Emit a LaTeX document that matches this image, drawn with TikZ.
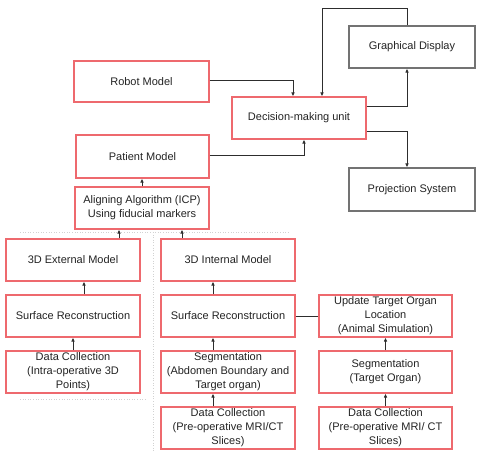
\documentclass[tikz,border=0pt]{standalone}
\usepackage{fontspec}
\setmainfont{Liberation Sans}
\usetikzlibrary{calc,arrows.meta}
\definecolor{boxred}{RGB}{238,105,110}
\definecolor{boxgray}{RGB}{115,115,115}
\definecolor{linec}{RGB}{45,45,45}
\definecolor{txt}{RGB}{35,35,35}
\tikzset{
  rbox/.style={draw=boxred, line width=1.2pt, align=center, inner sep=1pt,
    font=\fontsize{11}{14}\selectfont, text=txt},
  gbox/.style={rbox, draw=boxgray},
  arr/.style={draw=linec, line width=0.75pt, -{Latex[length=4pt,width=3.6pt]}},
  ln/.style={draw=linec, line width=0.75pt},
  faint/.style={draw=gray!35, dotted, line width=0.6pt}
}
\newcommand{\bx}[6]{\node[#1, minimum width=#4pt, minimum height=#5pt] (#2) at #3 {#6};}
\begin{document}
\begin{tikzpicture}[x=1pt,y=-1pt]
\useasboundingbox (0,0) rectangle (477,456);
% faint group outlines
\draw[faint] (20,232) -- (290,232);
\draw[faint] (153,232) -- (153,452);
\draw[faint] (20,399) -- (145,399);
% boxes
\bx{gbox}{gd}{(412,47)}{126}{42}{Graphical Display}
\bx{rbox}{rm}{(141.5,81.5)}{135}{41}{Robot Model}
\bx{rbox}{dm}{(299,118)}{134}{42}{Decision-making unit}
\bx{rbox}{pm}{(142.5,156.5)}{133}{43}{Patient Model}
\bx{gbox}{ps}{(412,189.5)}{126}{43}{Projection System}
\bx{rbox}{al}{(142,208)}{134}{42}{Aligning Algorithm (ICP)\\Using fiducial markers}
\bx{rbox}{ext}{(73,260)}{134}{42}{3D External Model}
\bx{rbox}{int}{(228,260)}{134}{42}{3D Internal Model}
\bx{rbox}{srL}{(73,316)}{134}{42}{Surface Reconstruction}
\bx{rbox}{srM}{(228,316)}{134}{42}{Surface Reconstruction}
\bx{rbox}{up}{(385.5,316)}{133}{42}{Update Target Organ\\Location\\(Animal Simulation)}
\bx{rbox}{dcL}{(73,372)}{134}{42}{Data Collection\\(Intra-operative 3D\\Points)}
\bx{rbox}{segM}{(228,372)}{134}{42}{Segmentation\\(Abdomen Boundary and\\Target organ)}
\bx{rbox}{segR}{(385.5,372)}{133}{42}{Segmentation\\(Target Organ)}
\bx{rbox}{dcM}{(228,428)}{134}{42}{Data Collection\\(Pre-operative MRI/CT\\Slices)}
\bx{rbox}{dcR}{(385.5,428)}{133}{42}{Data Collection\\(Pre-operative MRI/ CT\\Slices)}
% connectors
\draw[arr] ($(rm.east)+(0,-1.5)$) -| ($(dm.north)+(-6,0)$);
\draw[arr] ($(pm.east)+(0,-1.5)$) -| ($(dm.south)+(5,0)$);
\draw[arr] ($(gd.north)+(-5,0)$) -- ++(0,-17) -| ($(dm.north)+(23,0)$);
\draw[arr] ($(dm.east)+(0,-12)$) -| ($(gd.south)+(-5,0)$);
\draw[arr] ($(dm.east)+(0,13)$) -| ($(ps.north)+(-5,0)$);
\draw[arr] (al.north) -- (al.north |- pm.south);
\draw[arr] ($(ext.north)+(46,0)$) -- ($(ext.north |- al.south)+(46,0)$);
\draw[arr] ($(int.north)+(-46,0)$) -- ($(int.north |- al.south)+(-46,0)$);
\draw[arr] ($(srL.north)+(11,0)$) -- ($(ext.south)+(11,0)$);
\draw[arr] (dcL.north) -- (srL.south);
\draw[arr] ($(srM.north)+(-15,0)$) -- ($(int.south)+(-15,0)$);
\draw[arr] ($(segM.north)+(-15,0)$) -- ($(srM.south)+(-15,0)$);
\draw[arr] ($(dcM.north)+(-15,0)$) -- ($(segM.south)+(-15,0)$);
\draw[ln] (srM.east) -- (up.west);
\draw[arr] (segR.north) -- (up.south);
\draw[arr] (dcR.north) -- (segR.south);
\end{tikzpicture}
\end{document}
